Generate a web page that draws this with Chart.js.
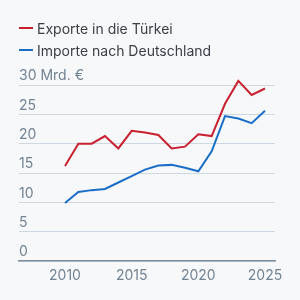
<!DOCTYPE html>
<html>
<head>
<meta charset="utf-8">
<script src="https://cdn.jsdelivr.net/npm/chart.js@4"></script>
<style>
  html, body { margin: 0; padding: 0; background: #f7f8f9; }
  #wrap { position: relative; width: 300px; height: 300px; }
  #legend { position: absolute; left: 19px; top: 17px; font: 14px Inter, sans-serif; color: #3b4047; }
  .item { display: flex; align-items: center; height: 22px; }
  .swatch { width: 14px; height: 2px; margin-right: 4px; }
</style>
</head>
<body>
<div id="wrap">
  <canvas id="chart" width="300" height="300"></canvas>
  <div id="legend"></div>
</div>
<script>
const years = [2010, 2011, 2012, 2013, 2014, 2015, 2016, 2017, 2018, 2019, 2020, 2021, 2022, 2023, 2024, 2025];
const exporte = [16.2, 20.0, 20.0, 21.3, 19.2, 22.2, 21.9, 21.5, 19.2, 19.5, 21.6, 21.3, 26.8, 30.7, 28.3, 29.4];
const importe = [9.9, 11.8, 12.1, 12.3, 13.4, 14.5, 15.6, 16.3, 16.4, 15.9, 15.3, 18.7, 24.7, 24.3, 23.5, 25.6];
const xTicks = [2010, 2015, 2020, 2025];
const yTicks = [0, 5, 10, 15, 20, 25, 30];
const seriesNames = ["Exporte in die Türkei", "Importe nach Deutschland"];
const colors = ["#c8202f", "#1b6ec8"];

// legend
const legend = document.getElementById("legend");
seriesNames.forEach((name, i) => {
  const item = document.createElement("div");
  item.className = "item";
  item.innerHTML = `<span class="swatch" style="background:${colors[i]}"></span>${name}`;
  legend.appendChild(item);
});

const toPoints = (vals) => vals.map((v, i) => ({ x: years[i], y: v }));

new Chart(document.getElementById("chart"), {
  type: "line",
  data: {
    datasets: [
      { label: seriesNames[0], data: toPoints(exporte), borderColor: colors[0], borderWidth: 2, pointRadius: 0, clip: false, tension: 0 },
      { label: seriesNames[1], data: toPoints(importe), borderColor: colors[1], borderWidth: 2, pointRadius: 0, clip: false, tension: 0 },
    ],
  },
  options: {
    responsive: false,
    animation: false,
    layout: { padding: { top: 85, left: 19, right: 25, bottom: 10 } },
    plugins: { legend: { display: false }, tooltip: { enabled: false } },
    scales: {
      x: {
        type: "linear",
        min: 2006.55,
        max: 2025.75,
        afterBuildTicks: (axis) => { axis.ticks = xTicks.map((v) => ({ value: v })); },
        grid: { display: false, drawTicks: false },
        border: { display: true, color: "#7f8e9b", width: 1.5 },
        ticks: { color: "#728394", font: { family: "Inter", size: 14 }, padding: 6, maxRotation: 0, callback: (v) => String(v) },
      },
      y: {
        min: 0,
        max: 30,
        afterBuildTicks: (axis) => { axis.ticks = yTicks.map((v) => ({ value: v })); },
        grid: { color: "#cfd8e0", drawTicks: false },
        border: { display: false },
        ticks: {
          mirror: true,
          padding: 0,
          labelOffset: -9,
          color: "#728394",
          font: { family: "Inter", size: 14 },
          callback: (v) => (v === 30 ? "30 Mrd. €" : String(v)),
        },
      },
    },
  },
});
</script>
</body>
</html>
